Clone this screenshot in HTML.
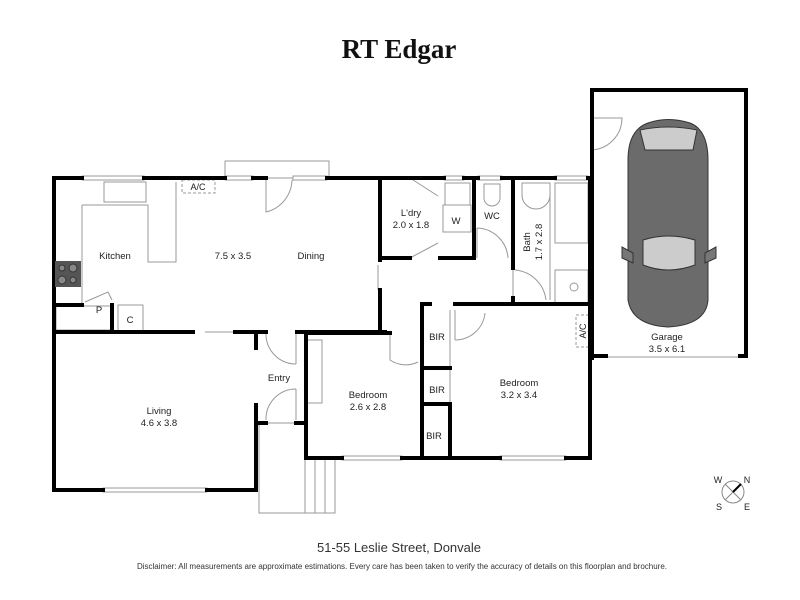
<!DOCTYPE html>
<html><head><meta charset="utf-8"><style>
html,body{margin:0;padding:0;background:#fff;width:800px;height:600px;overflow:hidden}
svg{display:block}
text{font-family:"Liberation Sans",sans-serif;fill:#222}
</style></head><body>
<svg width="800" height="600" viewBox="0 0 800 600" xmlns="http://www.w3.org/2000/svg">
<text x="399" y="58" text-anchor="middle" style="font-family:'Liberation Serif',serif;font-weight:bold;font-size:27px;fill:#111">RT Edgar</text>

<g fill="none" stroke="#999" stroke-width="1">
<rect x="225" y="161" width="104" height="17"/>
<path d="M82 205 H148 V262 H176 V182"/>
<path d="M82 205 V305"/>
<rect x="104" y="182" width="42" height="20"/>
<rect x="56" y="306" width="56" height="24"/>
<rect x="118" y="305" width="25" height="26"/>
<rect x="182" y="180" width="33" height="13" stroke-dasharray="3,2"/>
<rect x="576" y="315" width="13" height="32" stroke-dasharray="3,2"/>
<path d="M266 178 V212 A34 34 0 0 0 292 180"/>
<path d="M410 178 L438 196"/>
<path d="M410 258 L438 243"/>
<path d="M477 228 A32 32 0 0 1 508 258 M477 228 V258"/>
<path d="M515 270 A34 34 0 0 1 546 300"/>
<path d="M455 340 A30 30 0 0 0 485 313 M455 310 V340"/>
<path d="M390 335 V360 A28 28 0 0 0 418 362"/>
<path d="M266 333 A30 30 0 0 0 296 364 M296 333 V364"/>
<path d="M266 420 A30 30 0 0 1 296 389 M296 389 V420"/>
<path d="M590 150 A32 32 0 0 0 622 118 H590"/>
<path d="M85 302 L108 292 L112 300"/>
<rect x="445" y="183" width="25" height="22"/>
<rect x="443" y="205" width="28" height="27"/>
<path d="M484 184 H500 V198 A8 8 0 0 1 484 198 Z"/>
<rect x="555" y="183" width="33" height="60"/>
<rect x="555" y="270" width="33" height="33"/>
<circle cx="574" cy="287" r="4"/>
<path d="M522 183 H550 V195 A14 14 0 0 1 522 195 Z"/>
<path d="M513 190 V305 M550 190 V300"/>
<path d="M450 310 V458 M306 340 H322 V403 H306"/>
<path d="M259 423 V513 H305 M305 458 V513 H335 V458 M315 458 V513 M325 458 V513"/>
<path d="M266 423 H296"/>
<path d="M606 357 H740"/>
<path d="M205 332 H235 M378 265 V290"/>
</g>

<g fill="#fff" stroke="#999" stroke-width="1">
<rect x="82" y="176" width="62" height="4"/>
<rect x="225" y="176" width="28" height="4"/>
<rect x="293" y="176" width="34" height="4"/>
<rect x="444" y="176" width="20" height="4"/>
<rect x="478" y="176" width="24" height="4"/>
<rect x="555" y="176" width="33" height="4"/>
<rect x="103" y="488" width="104" height="4"/>
<rect x="342" y="456" width="60" height="4"/>
<rect x="500" y="456" width="66" height="4"/>
</g>

<g fill="none" stroke="#000" stroke-width="4" stroke-linecap="square">
<path d="M54 178 V490 H103 M207 490 H256 V405 M256 348 V333"/>
<path d="M54 178 H82 M144 178 H225 M253 178 H266 M327 178 H444 M464 178 H478 M502 178 H555 M588 178 H590"/>
<path d="M592 90 H746 V356 M592 90 V358 M592 356 H606 M740 356 H746"/>
<path d="M590 178 V458 H566 M500 458 H402 M342 458 H306 V333 H390"/>
<path d="M54 332 H193 M54 305 H82 M112 305 V332 M235 332 H266 M297 332 H385"/>
<path d="M380 178 V260 M380 290 V332"/>
<path d="M380 258 H410 M440 258 H474 M474 178 V258 M513 178 V268 M513 298 V304 H455 M422 304 V458 M422 304 H430 M485 304 H590"/>
<path d="M422 368 H450 M422 404 H450 M450 404 V458"/>
<path d="M256 423 H266 M296 423 H306"/>
</g>

<rect x="55" y="261" width="26" height="26" fill="#555"/>
<g fill="#888" stroke="#333"><circle cx="62" cy="268" r="3"/><circle cx="73" cy="268" r="4"/><circle cx="62" cy="280" r="4"/><circle cx="73" cy="280" r="3"/></g>

<g stroke="#333" stroke-width="1">
<path d="M648 123 Q668 116 690 123 Q708 130 708 160 V300 Q706 325 668 327 Q632 325 628 300 V160 Q628 130 648 123 Z" fill="#6b6b6b"/>
<path d="M640 130 Q668 124 697 130 L693 150 H645 Z" fill="#ccc"/>
<path d="M643 240 Q668 232 695 240 L695 265 Q668 275 643 265 Z" fill="#ccc"/>
<path d="M622 247 L633 253 L633 263 L622 258 Z M716 247 L705 253 L705 263 L716 258 Z" fill="#777"/>
</g>

<g font-size="9.5" text-anchor="middle">
<text x="115" y="259">Kitchen</text>
<text x="233" y="259">7.5 x 3.5</text>
<text x="311" y="259">Dining</text>
<text x="411" y="216">L'dry</text>
<text x="411" y="228">2.0 x 1.8</text>
<text x="456" y="224">W</text>
<text x="492" y="219">WC</text>
<text x="437" y="340">BIR</text>
<text x="437" y="393">BIR</text>
<text x="434" y="439">BIR</text>
<text x="368" y="398">Bedroom</text>
<text x="368" y="410">2.6 x 2.8</text>
<text x="519" y="386">Bedroom</text>
<text x="519" y="398">3.2 x 3.4</text>
<text x="159" y="414">Living</text>
<text x="159" y="426">4.6 x 3.8</text>
<text x="279" y="381">Entry</text>
<text x="667" y="340">Garage</text>
<text x="667" y="352">3.5 x 6.1</text>
<text x="198" y="190" font-size="9">A/C</text>
<text x="99" y="313">P</text>
<text x="130" y="323">C</text>
<text transform="translate(530,242) rotate(-90)">Bath</text>
<text transform="translate(542,242) rotate(-90)">1.7 x 2.8</text>
<text transform="translate(586,331) rotate(-90)" font-size="9">A/C</text>
</g>

<g stroke="#888" fill="none"><circle cx="733" cy="492" r="11"/><path d="M725 500 L741 484 M725 484 L741 500"/></g>
<path d="M733 492 L741 484" stroke="#000" stroke-width="2"/>
<g font-size="9" text-anchor="middle"><text x="718" y="483">W</text><text x="747" y="483">N</text><text x="719" y="510">S</text><text x="747" y="510">E</text></g>

<text x="399" y="552" text-anchor="middle" font-size="13" style="fill:#333">51-55 Leslie Street, Donvale</text>
<text x="402" y="569" text-anchor="middle" font-size="8" style="fill:#333">Disclaimer: All measurements are approximate estimations. Every care has been taken to verify the accuracy of details on this floorplan and brochure.</text>
</svg>
</body></html>
